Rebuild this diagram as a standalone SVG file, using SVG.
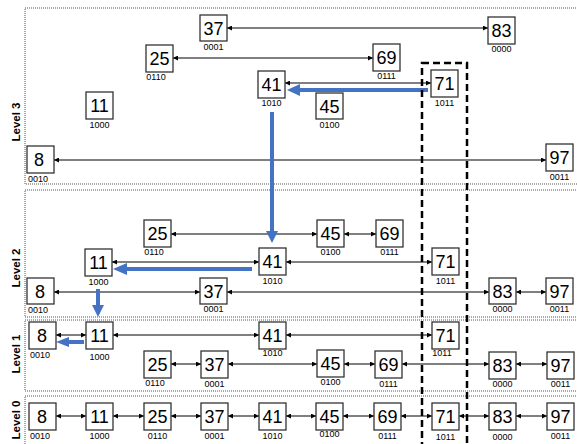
<svg xmlns="http://www.w3.org/2000/svg" width="577" height="444" viewBox="0 0 577 444">
<style>
.bg{fill:#fff}
.lvl{fill:none;stroke:#555;stroke-width:1;stroke-dasharray:1 1}
.box{fill:#fff;stroke:#333;stroke-width:1.3}
.num{font-family:"Liberation Sans",Arial,sans-serif;font-size:18px;fill:#000;text-anchor:middle}
.bits{font-family:"Liberation Sans",Arial,sans-serif;font-size:9px;fill:#000;text-anchor:middle}
.lab{font-family:"Liberation Sans",Arial,sans-serif;font-size:11.5px;font-weight:bold;fill:#000;text-anchor:middle}
.ln{stroke:#000;stroke-width:1;fill:none;marker-start:url(#ah);marker-end:url(#ah)}
.blue{stroke:#4472C4;stroke-width:4;fill:none}
.bh{fill:#4472C4}
.dash{fill:none;stroke:#000;stroke-width:2.5;stroke-dasharray:7 4}
</style>
<defs>
<marker id="ah" viewBox="0 0 6 6" refX="6" refY="3" markerWidth="5" markerHeight="5" markerUnits="userSpaceOnUse" orient="auto-start-reverse">
<path d="M0,0 L6,3 L0,6 z" fill="#000"/>
</marker>
</defs>
<rect class="bg" x="0" y="0" width="577" height="444"/>
<g id="levels">
<rect class="lvl" x="25" y="8" width="560" height="176"/>
<rect class="lvl" x="25" y="190" width="560" height="127"/>
<rect class="lvl" x="25" y="320" width="560" height="71"/>
<rect class="lvl" x="25" y="396" width="560" height="60"/>
<text class="lab" transform="translate(20,122) rotate(-90)">Level 3</text>
<text class="lab" transform="translate(20,268) rotate(-90)">Level 2</text>
<text class="lab" transform="translate(20,354) rotate(-90)">Level 1</text>
<text class="lab" transform="translate(20,420) rotate(-90)">Level 0</text>
</g>
<g id="connectors">
<line class="ln" x1="227" y1="28" x2="488" y2="28"/>
<line class="ln" x1="173" y1="58" x2="373" y2="58"/>
<line class="ln" x1="285" y1="83" x2="431" y2="83"/>
<line class="ln" x1="54" y1="160" x2="546" y2="160"/>
<line class="ln" x1="171" y1="234" x2="317" y2="234"/>
<line class="ln" x1="344" y1="234" x2="376" y2="234"/>
<line class="ln" x1="112" y1="262" x2="259" y2="262"/>
<line class="ln" x1="286" y1="262" x2="432" y2="262"/>
<line class="ln" x1="54" y1="292" x2="200" y2="292"/>
<line class="ln" x1="227" y1="292" x2="489" y2="292"/>
<line class="ln" x1="516" y1="292" x2="546" y2="292"/>
<line class="ln" x1="56" y1="335" x2="86" y2="335"/>
<line class="ln" x1="113" y1="335" x2="259" y2="335"/>
<line class="ln" x1="286" y1="335" x2="432" y2="335"/>
<line class="ln" x1="171" y1="364" x2="201" y2="364"/>
<line class="ln" x1="228" y1="364" x2="317" y2="364"/>
<line class="ln" x1="344" y1="364" x2="375" y2="364"/>
<line class="ln" x1="402" y1="364" x2="489" y2="364"/>
<line class="ln" x1="516" y1="364" x2="547" y2="364"/>
<line class="ln" x1="56" y1="416" x2="86" y2="416"/>
<line class="ln" x1="113" y1="416" x2="144" y2="416"/>
<line class="ln" x1="171" y1="416" x2="201" y2="416"/>
<line class="ln" x1="228" y1="416" x2="259" y2="416"/>
<line class="ln" x1="286" y1="416" x2="316" y2="416"/>
<line class="ln" x1="343" y1="416" x2="374" y2="416"/>
<line class="ln" x1="401" y1="416" x2="432" y2="416"/>
<line class="ln" x1="459" y1="416" x2="489" y2="416"/>
<line class="ln" x1="516" y1="416" x2="547" y2="416"/>
<line class="blue" x1="428" y1="90" x2="298" y2="90"/>
<polygon class="bh" points="287,90 300,84 300,96"/>
<line class="blue" x1="272" y1="112" x2="272" y2="232"/>
<polygon class="bh" points="272,243 266,231 278,231"/>
<line class="blue" x1="252" y1="269" x2="126" y2="269"/>
<polygon class="bh" points="113,269 127,263 127,275"/>
<line class="blue" x1="98" y1="289" x2="98" y2="306"/>
<polygon class="bh" points="98,317 92,305 104,305"/>
<line class="blue" x1="84" y1="342" x2="67" y2="342"/>
<polygon class="bh" points="56,342 69,337 69,347"/>
</g>
<g id="highlight">
<rect class="dash" x="422" y="63" width="45" height="390"/>
</g>
<g id="n3-37"><rect class="box" x="200" y="15" width="27" height="26"/><text class="num" x="213.5" y="34.5">37</text><text class="bits" x="213.5" y="50">0001</text></g>
<g id="n3-83"><rect class="box" x="488" y="17" width="27" height="27"/><text class="num" x="501.5" y="37">83</text><text class="bits" x="501.5" y="52">0000</text></g>
<g id="n3-25"><rect class="box" x="146" y="45" width="27" height="27"/><text class="num" x="159.5" y="65">25</text><text class="bits" x="156" y="80">0110</text></g>
<g id="n3-69"><rect class="box" x="373" y="44" width="27" height="27"/><text class="num" x="386.5" y="64">69</text><text class="bits" x="386.5" y="79">0111</text></g>
<g id="n3-41"><rect class="box" x="258" y="71" width="27" height="27"/><text class="num" x="271.5" y="91">41</text><text class="bits" x="271.5" y="106">1010</text></g>
<g id="n3-71"><rect class="box" x="431" y="70" width="27" height="27"/><text class="num" x="444.5" y="90">71</text><text class="bits" x="444.5" y="106">1011</text></g>
<g id="n3-11"><rect class="box" x="86" y="92" width="27" height="27"/><text class="num" x="99.5" y="112">11</text><text class="bits" x="99.5" y="128">1000</text></g>
<g id="n3-45"><rect class="box" x="316" y="93" width="27" height="26"/><text class="num" x="329.5" y="112.5">45</text><text class="bits" x="329.5" y="128">0100</text></g>
<g id="n3-8"><rect class="box" x="27" y="146" width="27" height="27"/><text class="num" x="39" y="166">8</text><text class="bits" x="38" y="182">0010</text></g>
<g id="n3-97"><rect class="box" x="546" y="144" width="27" height="27"/><text class="num" x="559.5" y="164">97</text><text class="bits" x="559.5" y="180">0011</text></g>
<g id="n2-25"><rect class="box" x="144" y="220" width="27" height="27"/><text class="num" x="157.5" y="240">25</text><text class="bits" x="154" y="255">0110</text></g>
<g id="n2-45"><rect class="box" x="317" y="220" width="27" height="27"/><text class="num" x="330.5" y="240">45</text><text class="bits" x="330.5" y="255">0100</text></g>
<g id="n2-69"><rect class="box" x="376" y="220" width="27" height="27"/><text class="num" x="389.5" y="240">69</text><text class="bits" x="389.5" y="255">0111</text></g>
<g id="n2-11"><rect class="box" x="85" y="249" width="27" height="27"/><text class="num" x="98.5" y="269">11</text><text class="bits" x="98.5" y="285">1000</text></g>
<g id="n2-41"><rect class="box" x="259" y="248" width="27" height="27"/><text class="num" x="272.5" y="268">41</text><text class="bits" x="272.5" y="284">1010</text></g>
<g id="n2-71"><rect class="box" x="432" y="248" width="27" height="27"/><text class="num" x="445.5" y="268">71</text><text class="bits" x="445.5" y="284">1011</text></g>
<g id="n2-8"><rect class="box" x="27" y="278" width="27" height="26"/><text class="num" x="40" y="297.5">8</text><text class="bits" x="38" y="313">0010</text></g>
<g id="n2-37"><rect class="box" x="200" y="278" width="27" height="26"/><text class="num" x="213.5" y="297.5">37</text><text class="bits" x="213.5" y="312">0001</text></g>
<g id="n2-83"><rect class="box" x="489" y="278" width="27" height="26"/><text class="num" x="502.5" y="297.5">83</text><text class="bits" x="502.5" y="312">0000</text></g>
<g id="n2-97"><rect class="box" x="546" y="278" width="27" height="26"/><text class="num" x="559.5" y="297.5">97</text><text class="bits" x="559.5" y="312">0011</text></g>
<g id="n1-8"><rect class="box" x="29" y="322" width="27" height="27"/><text class="num" x="42" y="342">8</text><text class="bits" x="40" y="358">0010</text></g>
<g id="n1-11"><rect class="box" x="86" y="322" width="27" height="27"/><text class="num" x="99.5" y="342">11</text><text class="bits" x="99.5" y="360">1000</text></g>
<g id="n1-41"><rect class="box" x="259" y="322" width="27" height="27"/><text class="num" x="272.5" y="342">41</text><text class="bits" x="272.5" y="356">1010</text></g>
<g id="n1-71"><rect class="box" x="432" y="322" width="27" height="27"/><text class="num" x="445.5" y="342">71</text><text class="bits" x="442" y="356">1011</text></g>
<g id="n1-25"><rect class="box" x="144" y="351" width="27" height="27"/><text class="num" x="157.5" y="371">25</text><text class="bits" x="155" y="386">0110</text></g>
<g id="n1-37"><rect class="box" x="201" y="351" width="27" height="27"/><text class="num" x="214.5" y="371">37</text><text class="bits" x="214.5" y="387">0001</text></g>
<g id="n1-45"><rect class="box" x="317" y="350" width="27" height="27"/><text class="num" x="330.5" y="370">45</text><text class="bits" x="330.5" y="385">0100</text></g>
<g id="n1-69"><rect class="box" x="375" y="351" width="27" height="27"/><text class="num" x="388.5" y="371">69</text><text class="bits" x="388.5" y="387">0111</text></g>
<g id="n1-83"><rect class="box" x="489" y="352" width="27" height="27"/><text class="num" x="502.5" y="372">83</text><text class="bits" x="502.5" y="387">0000</text></g>
<g id="n1-97"><rect class="box" x="547" y="352" width="27" height="27"/><text class="num" x="560.5" y="372">97</text><text class="bits" x="560.5" y="387">0011</text></g>
<g id="n0-8"><rect class="box" x="29" y="403" width="27" height="27"/><text class="num" x="42" y="423">8</text><text class="bits" x="40" y="439">0010</text></g>
<g id="n0-11"><rect class="box" x="86" y="403" width="27" height="27"/><text class="num" x="99.5" y="423">11</text><text class="bits" x="99.5" y="439">1000</text></g>
<g id="n0-25"><rect class="box" x="144" y="403" width="27" height="27"/><text class="num" x="157.5" y="423">25</text><text class="bits" x="157.5" y="439">0110</text></g>
<g id="n0-37"><rect class="box" x="201" y="403" width="27" height="27"/><text class="num" x="214.5" y="423">37</text><text class="bits" x="214.5" y="439">0001</text></g>
<g id="n0-41"><rect class="box" x="259" y="403" width="27" height="27"/><text class="num" x="272.5" y="423">41</text><text class="bits" x="272.5" y="439">1010</text></g>
<g id="n0-45"><rect class="box" x="316" y="403" width="27" height="27"/><text class="num" x="329.5" y="423">45</text><text class="bits" x="329.5" y="437">0100</text></g>
<g id="n0-69"><rect class="box" x="374" y="403" width="27" height="27"/><text class="num" x="387.5" y="423">69</text><text class="bits" x="387.5" y="439">0111</text></g>
<g id="n0-71"><rect class="box" x="432" y="403" width="27" height="27"/><text class="num" x="445.5" y="423">71</text><text class="bits" x="445.5" y="440">1011</text></g>
<g id="n0-83"><rect class="box" x="489" y="403" width="27" height="27"/><text class="num" x="502.5" y="423">83</text><text class="bits" x="502.5" y="440">0000</text></g>
<g id="n0-97"><rect class="box" x="547" y="403" width="27" height="27"/><text class="num" x="560.5" y="423">97</text><text class="bits" x="560.5" y="439">0011</text></g>
</svg>
